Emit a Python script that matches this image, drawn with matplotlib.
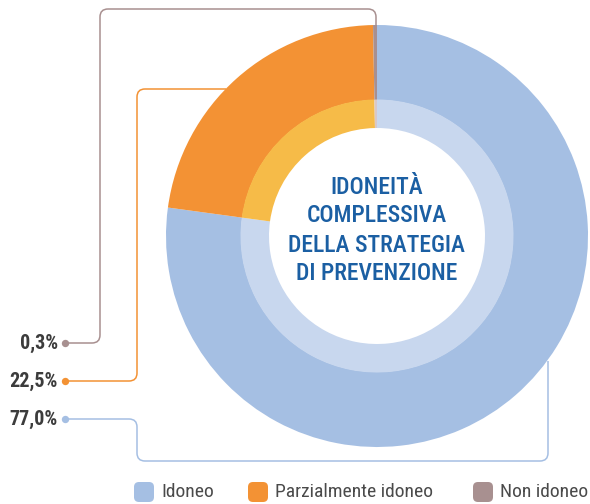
"""
Donut chart: idoneità complessiva della strategia di prevenzione.
Drawn in a pixel-based coordinate system (590x504, y pointing down).
"""

import matplotlib
matplotlib.use("Agg")
import matplotlib.pyplot as plt
import numpy as np
from matplotlib import font_manager
from matplotlib.path import Path
from matplotlib.patches import PathPatch, FancyBboxPatch

W, H = 590, 504

categories = ["Idoneo", "Parzialmente idoneo", "Non idoneo"]
shares = [77.0, 22.5, 0.3]
share_labels = ["77,0%", "22,5%", "0,3%"]
outer_colors = ["#A5BFE3", "#F39234", "#A89090"]
inner_colors = ["#C8D7EE", "#F6BB48", "#D8C8C8"]
title_lines = ["IDONEITÀ", "COMPLESSIVA", "DELLA STRATEGIA", "DI PREVENZIONE"]


def pick_font(candidates):
    names = {f.name for f in font_manager.fontManager.ttflist}
    for c in candidates:
        if c in names:
            return c
    return "DejaVu Sans"


FONT = pick_font(["Roboto Condensed", "Liberation Sans Narrow", "Open Sans Condensed", "Roboto"])
condensed = FONT != "Roboto"


def rounded_path(pts, r=8):
    """Polyline with rounded corners."""
    pts = [np.array(p, dtype=float) for p in pts]
    verts, codes = [pts[0]], [Path.MOVETO]
    for i in range(1, len(pts) - 1):
        p0, p1, p2 = pts[i - 1], pts[i], pts[i + 1]
        u1 = (p1 - p0) / np.linalg.norm(p1 - p0)
        u2 = (p2 - p1) / np.linalg.norm(p2 - p1)
        verts += [p1 - r * u1, p1, p1 + r * u2]
        codes += [Path.LINETO, Path.CURVE3, Path.CURVE3]
    verts.append(pts[-1])
    codes.append(Path.LINETO)
    return Path(verts, codes)


fig = plt.figure(figsize=(W / 100, H / 100), dpi=100)
ax = fig.add_axes([0, 0, 1, 1])

cx, cy = 377, 236
r_out, r_mid, r_in = 211, 136, 108

# screen: start at top, go clockwise (y axis is inverted below)
ax.pie(shares, colors=outer_colors, radius=r_out, center=(cx, cy),
       startangle=-90, counterclock=True,
       wedgeprops=dict(width=r_out - r_mid, linewidth=0))
ax.pie(shares, colors=inner_colors, radius=r_mid + 0.5, center=(cx, cy),
       startangle=-90, counterclock=True,
       wedgeprops=dict(width=r_mid + 0.5 - r_in, linewidth=0))

ax.set_xlim(0, W)
ax.set_ylim(H, 0)
ax.set_aspect("equal")
ax.axis("off")

# --- leader lines from the labels to the ring ---
routes = [
    [(65, 419), (137, 419), (137, 461), (548, 461), (548, 361)],
    [(65, 381), (137, 381), (137, 89), (226, 89)],
    [(65, 343), (100, 343), (100, 9), (376, 9), (376, 25)],
]
for route, col, lab in zip(routes, outer_colors, share_labels):
    ax.add_patch(PathPatch(rounded_path(route), fill=False, edgecolor=col,
                           linewidth=1.1, zorder=1))
    ax.scatter([route[0][0]], [route[0][1]], s=28, color=col, zorder=3, linewidths=0)
    ax.text(route[0][0] - 7, route[0][1], lab, ha="right", va="center",
            fontsize=14.5 if condensed else 12, fontweight="bold",
            color="#3C3C3C", family=FONT)

# --- centre title ---
title_size = 17 if condensed else 14
for yy, line in zip([187, 216, 245, 274], title_lines):
    ax.text(cx, yy, line, ha="center", va="center", fontsize=title_size,
            fontweight="medium", color="#1B5FA3", family=FONT)

# --- legend ---
legend_x = [134, 248, 473]
for x, col, name in zip(legend_x, outer_colors, categories):
    ax.add_patch(FancyBboxPatch((x, 482), 20, 20,
                                boxstyle="round,pad=0,rounding_size=5",
                                facecolor=col, edgecolor="none"))
    ax.text(x + 27, 492, name, ha="left", va="center",
            fontsize=14 if condensed else 11.5, color="#4A4A4A", family=FONT)

fig.savefig("out.png", dpi=100)
